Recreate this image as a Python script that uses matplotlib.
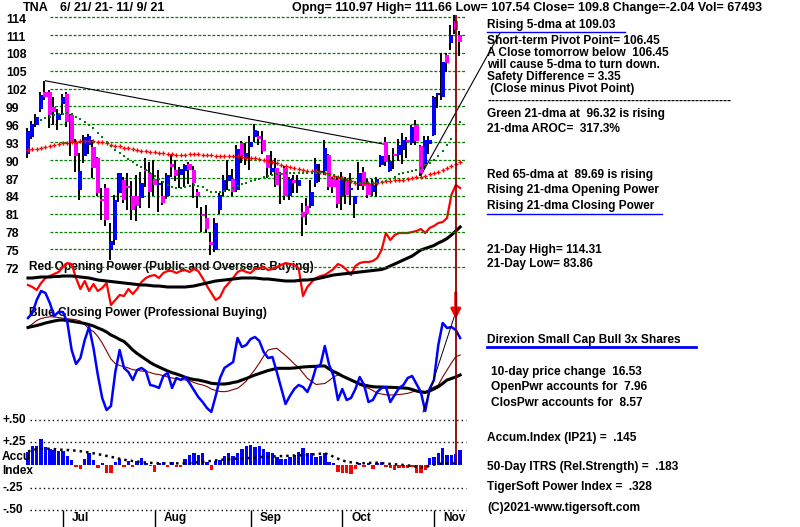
import numpy as np
import matplotlib
matplotlib.use("Agg")
import matplotlib.pyplot as plt
from matplotlib.lines import Line2D

# ---------------- data ----------------
opens = [91.0, 93.9, 95.9, 98.6, 101.4, 101.4, 98.9, 96.7, 99.4, 101.1,
         97.6, 92.8, 85.0, 90.7, 92.5, 92.2, 90.3, 83.5, 85.3, 74.9,
         76.6, 84.5, 86.7, 85.6, 84.0, 83.9, 83.7, 88.4, 87.8, 86.9,
         85.8, 84.0, 83.9, 89.3, 88.3, 87.5, 88.2, 89.3, 88.3, 84.7,
         81.0, 80.2, 76.3, 74.9, 81.6, 84.7, 86.5, 86.9, 85.0, 92.8,
         90.3, 92.2, 93.9, 94.0, 93.4, 90.8, 88.0, 88.6, 87.9, 88.6,
         83.9, 86.6, 85.6, 81.3, 82.3, 82.3, 86.1, 87.8, 88.1, 90.8,
         86.9, 86.6, 84.0, 86.5, 85.0, 82.7, 85.6, 88.0, 86.0, 84.7,
         86.0, 89.2, 93.1, 88.2, 91.0, 90.8, 91.7, 93.2, 92.8, 95.9,
         92.4, 89.3, 92.7, 94.2, 100.9, 100.6, 107.6, 109.6, 113.4, 110.97]
highs = [95.4, 96.6, 97.8, 101.5, 103.3, 101.8, 100.5, 98.5, 101.0, 101.5,
         97.8, 93.5, 91.1, 94.2, 94.3, 93.3, 90.5, 85.3, 86.0, 79.4,
         84.2, 87.8, 87.2, 87.8, 86.5, 87.5, 88.0, 90.3, 89.7, 90.0,
         88.4, 86.5, 87.8, 90.8, 90.0, 88.8, 89.4, 89.6, 89.0, 85.2,
         82.2, 82.4, 78.0, 80.2, 84.4, 87.5, 90.0, 88.5, 92.5, 93.2,
         92.8, 94.0, 96.0, 94.9, 94.8, 90.9, 91.5, 90.3, 88.0, 89.0,
         87.2, 87.5, 87.5, 82.8, 83.6, 86.6, 90.3, 89.4, 93.4, 91.0,
         87.2, 87.3, 88.0, 87.2, 87.8, 84.0, 89.6, 88.8, 86.9, 86.9,
         87.2, 90.8, 93.9, 90.8, 92.1, 93.5, 94.5, 93.9, 95.9, 96.7,
         92.5, 94.0, 94.0, 100.8, 101.3, 107.9, 107.9, 112.7, 114.31, 111.66]
lows = [90.3, 93.5, 95.5, 98.0, 100.0, 95.3, 95.8, 95.0, 97.5, 95.5,
        90.6, 88.0, 83.3, 89.5, 91.0, 87.0, 84.0, 80.0, 78.9, 73.2,
        75.8, 83.0, 82.8, 81.6, 79.9, 79.7, 82.0, 85.5, 82.0, 84.0,
        81.3, 82.5, 83.5, 87.2, 86.5, 85.3, 85.5, 86.0, 83.6, 81.9,
        78.0, 77.7, 74.0, 74.5, 81.0, 84.0, 85.0, 84.0, 84.7, 89.5,
        89.2, 88.3, 93.0, 92.5, 91.0, 87.0, 87.5, 85.5, 82.7, 83.3,
        83.3, 84.4, 84.5, 77.2, 79.1, 82.0, 85.4, 86.3, 87.5, 85.0,
        84.5, 82.0, 81.6, 82.7, 82.5, 80.2, 85.0, 85.0, 83.6, 84.0,
        83.86, 88.9, 89.0, 88.0, 88.5, 89.8, 89.4, 90.3, 92.5, 92.5,
        87.4, 88.5, 91.0, 94.0, 98.7, 100.0, 104.8, 108.5, 111.2, 107.54]
closes = [94.8, 96.0, 97.2, 100.9, 100.6, 97.6, 98.0, 97.8, 100.6, 96.3,
          93.1, 90.6, 88.2, 93.8, 94.0, 88.6, 84.4, 83.1, 80.0, 76.4,
          83.3, 87.8, 83.3, 85.3, 81.6, 82.3, 86.1, 88.1, 84.7, 85.8,
          86.2, 82.8, 87.5, 88.9, 87.3, 88.5, 89.2, 88.3, 86.1, 83.9,
          80.6, 78.4, 75.8, 79.4, 84.1, 86.7, 87.5, 84.7, 91.9, 90.6,
          91.1, 93.1, 95.0, 93.6, 91.5, 88.6, 88.6, 85.8, 87.5, 84.0,
          86.9, 86.1, 86.6, 80.5, 80.9, 84.7, 89.3, 88.0, 92.0, 85.5,
          85.5, 82.7, 86.9, 84.1, 85.3, 83.9, 87.8, 85.6, 84.1, 85.8,
          86.9, 90.7, 89.7, 89.9, 90.7, 92.5, 93.4, 93.0, 95.5, 93.27,
          87.8, 93.4, 93.4, 100.5, 101.2, 106.45, 106.2, 110.9, 111.84, 109.8]

# 65-dma (red) and 21-dma (green) as drawn
ma65 = [91.7, 91.8, 91.9, 92.0, 92.2, 92.4, 92.5, 92.7, 92.8, 92.9,
        93.0, 93.1, 93.2, 93.2, 93.2, 93.2, 93.1, 93.0, 92.8, 92.6,
        92.4, 92.3, 92.1, 92.0, 91.8, 91.7, 91.6, 91.5, 91.4, 91.3,
        91.2, 91.1, 91.0, 91.0, 90.9, 90.9, 90.9, 91.0, 91.0, 91.0,
        90.9, 90.8, 90.8, 90.7, 90.7, 90.7, 90.6, 90.6, 90.6, 90.5,
        90.4, 90.3, 90.3, 90.2, 90.0, 89.8, 89.6, 89.5, 89.2, 89.0,
        88.8, 88.6, 88.5, 88.3, 88.1, 88.1, 88.1, 88.0, 87.8, 87.6,
        87.4, 87.2, 87.0, 86.7, 86.4, 86.2, 86.1, 86.1, 86.1, 86.1,
        86.2, 86.3, 86.4, 86.5, 86.6, 86.6, 86.7, 86.9, 87.0, 87.1,
        87.2, 87.4, 87.6, 87.8, 88.0, 88.3, 88.6, 89.0, 89.3, 89.69]
ma21 = [np.nan, np.nan, np.nan, 96.8, 97.0, 97.3, 97.5, 97.7, 97.8, 97.9,
        97.7, 97.3, 96.9, 96.4, 95.9, 95.3, 94.6, 93.8, 93.0, 92.3,
        91.7, 91.1, 90.6, 90.1, 89.6, 89.2, 88.8, 88.3, 87.8, 87.3,
        86.8, 86.3, 85.8, 85.4, 85.3, 85.3, 85.4, 85.6, 85.8, 85.7,
        85.4, 85.0, 84.7, 84.6, 84.6, 84.8, 85.0, 85.3, 85.6, 85.9,
        86.1, 86.4, 86.7, 86.9, 87.1, 87.3, 87.5, 87.6, 87.7, 87.8,
        87.8, 87.9, 87.9, 87.9, 87.9, 87.9, 87.8, 87.8, 87.8, 87.6,
        87.5, 87.2, 87.0, 86.7, 86.5, 86.3, 86.2, 86.1, 86.1, 86.1,
        86.2, 86.3, 86.5, 86.8, 87.2, 87.6, 87.8, 88.0, 88.1, 88.3,
        88.6, 89.1, 89.5, 90.0, 90.6, 91.5, 92.5, 93.6, 94.8, 96.32]

# Opening Power (red) and its average (black), chart units
op = [15, 13, 10, 17, 22, 24, 26, 28, 33, 37, 36, 22, 11, 19, 9, 16, 9, 12, 17, -5,
      0, 5, 4, 11, 6, 11, 18, 22, 24, 25, 22, 27, 29, 29, 27, 29, 30, 28, 31, 29,
      22, 14, 7, 0, 3, 12, 17, 22, 28, 30, 28, 27, 31, 32, 33, 30, 31, 33, 35, 37,
      36, 35, 32, 4, 13, 18, 22, 24, 25, 28, 31, 36, 34, 30, 25, 34, 37, 38, 38, 39,
      42, 50, 67, 60, 65, 67, 67, 67, 68, 69, 71, 67, 72, 74, 77, 78, 82, 105, 115, 112]
op_ma = [22, 22, 22.5, 23, 23, 23, 23.5, 23.5, 24, 24, 24, 23.5, 23, 22.5, 22, 21, 20, 19.5, 19, 18.5,
         18, 17.5, 17, 16.5, 16, 15.5, 15, 15, 14.5, 14, 14, 13.5, 13, 13, 13, 13, 13, 13.5, 14, 15,
         16, 17, 18, 19, 19.5, 20, 20.5, 21, 21.5, 22, 22, 22, 22, 21.5, 21, 21, 20.5, 20, 19.5, 19,
         19, 19, 19.5, 20, 20, 20.5, 21, 22, 23, 24, 25, 25.5, 26, 26.5, 27, 27.5, 28, 28.5, 29, 29.5,
         30, 30.5, 32, 34, 36, 38, 40, 42, 44, 47, 50, 51.5, 53, 54.5, 57, 59, 61.5, 65, 69, 73]

# Closing Power (blue), its long average (black) and short average (brown)
cp = [102, 107, 120, 129, 127, 117, 104, 108, 108, 98, 70, 56, 62, 80, 93, 72, 45, 22, 10, 14,
      48, 70, 52, 48, 40, 50, 52, 49, 35, 34, 32, 44, 47, 32, 42, 40, 43, 37, 30, 23,
      18, 12, 8, 24, 42, 52, 55, 58, 82, 73, 75, 81, 83, 79, 68, 62, 63, 48, 32, 16,
      24, 31, 35, 33, 28, 38, 53, 55, 74, 55, 44, 20, 31, 20, 22, 31, 43, 35, 18, 20,
      28, 32, 33, 18, 25, 32, 35, 42, 44, 36, 28, 9, 31, 40, 75, 97, 92, 93, 90, 82]
cp_ma = [92.5, 93.5, 94.5, 95.7, 97, 98, 99, 99.8, 100, 99.5, 98.8, 98, 97.3, 96.5, 95.3, 94, 92, 90.3, 88, 85,
         83, 80.5, 78.5, 74.5, 70, 66.5, 63.5, 60.5, 57.5, 55, 53, 51, 49, 47.3, 46, 44.5, 42.7, 41.5, 40.5, 40,
         39, 38, 36.7, 36.3, 36, 36, 36.5, 37.5, 38.3, 40, 41.5, 43.3, 45, 46.5, 48, 49.5, 50.5, 51.7, 51.7, 51.7,
         51.7, 52, 52.5, 53, 53.3, 53.5, 53.7, 54, 54, 51, 48.5, 46.5, 44, 42, 40, 38, 36, 35, 34, 33.3,
         33, 33, 32.8, 32.7, 32.5, 32.2, 32, 31.7, 30.5, 29, 28, 27.5, 29, 31, 33.3, 36.5, 40, 41.5, 43, 45]
cp_ma_short = [93, 96, 99.5, 101.5, 102.5, 103.3, 103, 102.5, 101.8, 101.3, 100.8, 100.2, 99, 95.5, 91, 88.5, 83.5, 77, 69, 61,
               56.5, 54.5, 53.3, 52, 50.3, 49.7, 49, 48.5, 47.5, 46, 45.5, 44.3, 43, 42, 41.5, 40.7, 40, 39.5, 37.5, 36,
               35, 33.5, 31, 29.5, 28.5, 28.3, 29, 30.5, 31.7, 35, 39, 45, 50.5, 57, 64, 70, 71, 71.7, 68, 64.5,
               60.5, 56, 52.5, 47, 41.7, 38.5, 35.5, 36, 36.5, 39.5, 43, 45, 44, 42, 40, 37.5, 35, 33, 31.7, 29.5,
               26.8, 26, 25.2, 25, 25, 25.5, 26, 26.7, 28, 29.5, 29, 28.5, 30.5, 33, 35, 43, 50, 57, 63.3, 65]

# Accumulation Index (IP21) and its average
accum = [0.147, 0.213, 0.21, 0.283, 0.195, 0.173, 0.165, 0.158, 0.15, 0.10,
         0.055, -0.026, -0.048, 0.063, 0.129, 0.055, -0.037, 0.026, -0.09, -0.085,
         0.037, 0.063, -0.018, 0.048, -0.026, 0.048, 0.074, 0.026, -0.011, -0.074,
         0.026, 0.037, -0.018, 0.037, -0.026, -0.026, 0.063, 0.11, 0.129, 0.11,
         0.136, 0.037, -0.055, 0.048, 0.055, 0.10, 0.136, 0.10, 0.136, 0.173,
         0.21, 0.22, 0.195, 0.21, 0.173, 0.147, 0.129, 0.092, 0.063, 0.063,
         0.092, 0.11, 0.147, 0.184, 0.136, 0.129, 0.092, 0.10, 0.129, 0.037,
         0.026, -0.074, -0.085, -0.092, -0.103, -0.048, 0.018, -0.026, 0.026, -0.048,
         0.026, 0.037, -0.026, -0.037, -0.055, -0.037, -0.037, -0.037, -0.026, -0.092,
         -0.092, -0.055, 0.074, 0.092, 0.136, 0.184, 0.11, 0.11, 0.121, 0.16]
accum_ma = [0.15, 0.16, 0.175, 0.18, 0.18, 0.178, 0.175, 0.17, 0.168, 0.165,
            0.162, 0.158, 0.152, 0.145, 0.137, 0.129, 0.12, 0.11, 0.10, 0.09,
            0.08, 0.068, 0.058, 0.05, 0.044, 0.038, 0.032, 0.027, 0.024, 0.022,
            0.02, 0.018, 0.018, 0.018, 0.018, 0.018, 0.018, 0.021, 0.025, 0.03,
            0.035, 0.04, 0.045, 0.05, 0.056, 0.062, 0.065, 0.068, 0.07, 0.072,
            0.074, 0.078, 0.082, 0.086, 0.09, 0.092, 0.094, 0.096, 0.098, 0.10,
            0.102, 0.104, 0.106, 0.108, 0.11, 0.115, 0.12, 0.124, 0.128, 0.115,
            0.09, 0.07, 0.05, 0.037, 0.03, 0.022, 0.018, 0.02, 0.023, 0.025,
            0.025, 0.02, 0.016, 0.012, 0.008, 0.004, 0.0, -0.005, -0.01, -0.018,
            -0.025, -0.03, -0.005, 0.005, 0.012, 0.016, 0.018, 0.018, 0.018, 0.018]

month_idx = [8, 29, 51, 72, 93]
month_lbl = ['Jul', 'Aug', 'Sep', 'Oct', 'Nov']
price_levels = list(range(72, 115, 3))
accum_levels = [0.5, 0.25, -0.25, -0.5]
accum_lbls = ['+.50', '+.25', '-.25', '-.50']
trend_down = ([4, 82], [103.3, 92.6])
trend_up = ([90, 108.1], [87.4, 111.3])
cp_trend = ([90.5, 98.3], [8, 112])
signal_day = 98

header_left = 'TNA'
header_dates = '6/ 21/ 21- 11/ 9/ 21'
header_right = 'Opng= 110.97 High= 111.66 Low= 107.54 Close= 109.8 Change=-2.04 Vol= 67493'

# ---------------- layout helpers ----------------
W, H = 800, 527
X0, DX = 28.0, 4.365          # pixel x of day 0 and pixels per day
P_REF, Y_REF, P_PX = 114.0, 17.0, 5.96


def ix(xpx):
    return (xpx - X0) / DX


def py(ypx):
    return P_REF - (ypx - Y_REF) / P_PX


FONT = ['Liberation Sans', 'DejaVu Sans']
FS = 8.6

fig = plt.figure(figsize=(W / 100, H / 100), dpi=100)
fig.patch.set_facecolor('white')


def mk_axes(ylim):
    a = fig.add_axes([0, 0, 1, 1])
    a.set_xlim(ix(0), ix(W))
    a.set_ylim(*ylim)
    a.axis('off')
    a.patch.set_alpha(0)
    return a


ax_op = mk_axes((300 - H, 300))
ax_cp = mk_axes((420 - H, 420))
ax_acc = mk_axes(((465 - H) / 90.8, 465 / 90.8))
ax = mk_axes((py(H), py(0)))


def ftext(x, y, s, size=FS, color='black', target=None, z=3, **kw):
    tgt = fig if target is None else target
    tgt.text(x / W, 1 - y / H, s, transform=fig.transFigure, fontsize=size,
             fontweight='bold', family=FONT, color=color, va='center',
             ha='left', zorder=z, **kw)


def uline(x1, x2, y, lw=1.0, color='#0000FF'):
    fig.add_artist(Line2D([x1 / W, x2 / W], [1 - y / H, 1 - y / H],
                          color=color, lw=lw, transform=fig.transFigure))


idx = np.arange(len(closes))
o = np.array(opens); c = np.array(closes)
hi = np.array(highs); lo = np.array(lows)

# ---------------- price panel ----------------
ax.hlines(price_levels, ix(50), ix(466), colors='#008000',
          linestyles=(0, (2.3, 1.4)), lw=0.9, zorder=1)
for lv in price_levels:
    ax.text(ix(6), lv - 0.45, str(lv), fontsize=8.8, fontweight='bold',
            family=FONT, va='center', ha='left')

ax.plot(*trend_down, color='black', lw=0.8, zorder=2)
ax.plot(*trend_up, color='black', lw=0.8, zorder=2, clip_on=False)

up = c >= o
ax.vlines(idx - 0.3, lo, hi, color='black', lw=1.4, zorder=3)
body_lo = np.minimum(o, c)
body_h = np.maximum(np.abs(c - o), 0.3)
ax.bar(idx[up], body_h[up], bottom=body_lo[up], width=0.95, color='#0000FF',
       linewidth=0, zorder=4)
ax.bar(idx[~up], body_h[~up], bottom=body_lo[~up], width=0.95, color='#FF00FF',
       linewidth=0, zorder=4)

ax.plot(idx, ma65, ls='none', marker='P', ms=3.0, mew=0, color='#FF0000', zorder=5)
ax.plot(idx, ma21, ls='none', marker='s', ms=1.9, mew=0, color='#008000', zorder=5)

ax.vlines(signal_day, py(463), max(highs), color='#8B0000', lw=1.3, zorder=6)

# ---------------- opening power ----------------
ftext(29, 267, 'Red Opening Power (Public and Overseas Buying)', target=ax_op, z=1)
ax_op.plot(idx, op, color='#FF0000', lw=1.6, zorder=3)
ax_op.plot(idx, op_ma, color='black', lw=2.2, zorder=3)

# ---------------- closing power ----------------
ftext(29, 313, 'Blue Closing Power (Professional Buying)', target=ax_cp, z=1)
ax_cp.plot(idx, cp_ma_short, color='#800000', lw=0.8, zorder=2)
ax_cp.plot(idx, cp_ma, color='black', lw=2.2, zorder=3)
ax_cp.plot(idx, cp, color='#0000FF', lw=1.8, zorder=4)
ax_cp.plot(*cp_trend, color='black', lw=0.7, zorder=4)
ax_cp.annotate('', xy=(signal_day, cp[signal_day] + 8),
               xytext=(signal_day, cp[signal_day] + 40),
               arrowprops=dict(arrowstyle='-|>', color='#FF0000', lw=2.2,
                               mutation_scale=14), zorder=6)

# ---------------- accumulation index ----------------
acc = np.array(accum)
ax_acc.hlines(accum_levels, ix(30), ix(466), colors='black',
              linestyles=(0, (1, 2.2)), lw=1.0, zorder=1)
ax_acc.bar(idx[acc >= 0], acc[acc >= 0], width=0.78, color='#0000FF', linewidth=0, zorder=2)
ax_acc.bar(idx[acc < 0], acc[acc < 0], width=0.78, color='#FF0000', linewidth=0, zorder=2)
ax_acc.plot(idx, accum_ma, color='black', lw=1.8, ls=(0, (1, 1.6)), zorder=3)
for lv, lb in zip(accum_levels, accum_lbls):
    ax_acc.text(ix(3), lv, lb, fontsize=FS, fontweight='bold', family=FONT,
                va='center', ha='left')
ftext(2, 457, 'Accu')
ftext(2, 471, 'Index')

ax_acc.vlines(month_idx, (465 - H) / 90.8, (465 - 510) / 90.8, colors='black', lw=1.0)
for m, lb in zip(month_idx, month_lbl):
    ax_acc.text(m + 2.1, (465 - 518) / 90.8, lb, fontsize=FS, fontweight='bold',
                family=FONT, va='center', ha='left')

# ---------------- header ----------------
ftext(23, 8, header_left, size=9.0)
ftext(60, 8, header_dates, size=9.0)
ftext(292, 8, header_right, size=9.0)

# ---------------- right-hand text block ----------------
RX = 487
ftext(RX, 25, 'Rising 5-dma at 109.03')
uline(487, 625, 32.3)
ftext(RX, 41, 'Short-term Pivot Point= 106.45')
ftext(RX, 53, 'A Close tomorrow below  106.45')
ftext(RX, 65, 'will cause 5-dma to turn down.')
ftext(RX, 77, 'Safety Difference = 3.35')
ftext(RX, 89, ' (Close minus Pivot Point)')
ftext(RX, 101, '-' * 61)
ftext(RX, 114, 'Green 21-dma at  96.32 is rising')
ftext(RX, 129, '21-dma AROC=  317.3%')
ftext(RX, 175, 'Red 65-dma at  89.69 is rising')
ftext(RX, 190, 'Rising 21-dma Opening Power')
ftext(RX, 205.5, 'Rising 21-dma Closing Power')
uline(487, 662, 214)
ftext(RX, 250, '21-Day High= 114.31')
ftext(RX, 264.5, '21-Day Low= 83.86')
ftext(RX, 340, 'Direxion Small Cap Bull 3x Shares')
uline(487, 696, 347, lw=2.0)
ftext(491, 371.5, '10-day price change  16.53')
ftext(491, 387, 'OpenPwr accounts for  7.96')
ftext(491, 403, 'ClosPwr accounts for  8.57')
ftext(RX, 438, 'Accum.Index (IP21) =  .145')
ftext(RX, 467, '50-Day ITRS (Rel.Strength) =  .183')
ftext(RX, 487, 'TigerSoft Power Index =  .328')
ftext(RX, 508, '(C)2021-www.tigersoft.com')

fig.savefig('out.png', dpi=100, facecolor='white')
